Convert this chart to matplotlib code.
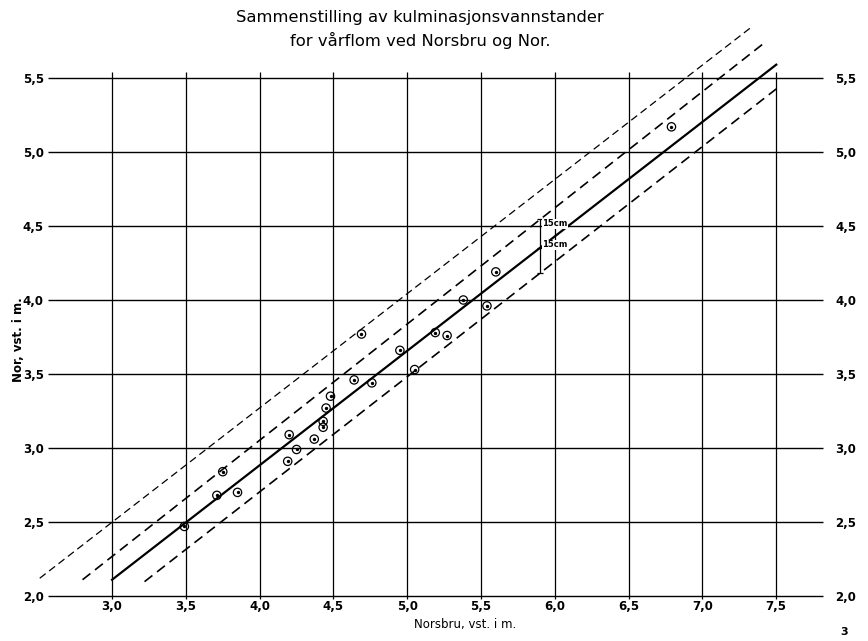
import numpy as np
import matplotlib.pyplot as plt
from matplotlib.ticker import FuncFormatter

## Data
norsbru = [3.49, 3.71, 3.75, 3.85, 4.19, 4.20, 4.25, 4.37, 4.43, 4.43, 4.45, 4.48,
           4.64, 4.69, 4.76, 4.95, 5.05, 5.19, 5.27, 5.38, 5.54, 5.60, 6.79]
nor = [2.47, 2.68, 2.84, 2.70, 2.91, 3.09, 2.99, 3.06, 3.14, 3.18, 3.27, 3.35,
       3.46, 3.77, 3.44, 3.66, 3.53, 3.78, 3.76, 4.00, 3.96, 4.19, 5.17]
# line end points (x0, x1), (y0, y1)
mid_x, mid_y = [3.00, 7.50], [2.11, 5.59]
upper_x, upper_y = [2.80, 7.41], [2.11, 5.73]
outer_x, outer_y = [2.51, 7.34], [2.12, 5.85]
lower_x, lower_y = [3.22, 7.50], [2.097, 5.426]
bracket_x = 5.9
x_ticks = [3.0, 3.5, 4.0, 4.5, 5.0, 5.5, 6.0, 6.5, 7.0, 7.5]
y_ticks = [2.0, 2.5, 3.0, 3.5, 4.0, 4.5, 5.0, 5.5]

plt.rcParams['font.family'] = ['DejaVu Sans']

fig = plt.figure(figsize=(8.68, 6.41), dpi=100)
ax = fig.add_axes([0.0553, 0.0702, 0.8929, 0.9005])
ax.set_xlim(2.566, 7.817)
ax.set_ylim(2.0, 5.9)
for s in ax.spines.values():
    s.set_visible(False)

# grid
ax.hlines(y_ticks, 2.566, 7.817, color='black', lw=1.0, clip_on=False)
ax.vlines(x_ticks, 1.98, 5.54, color='black', lw=0.9, clip_on=False)

# ticks, y labels on both sides (right ones via a twin axis)
comma = FuncFormatter(lambda v, p: f'{v:.1f}'.replace('.', ','))
ax.set_xticks(x_ticks)
ax.set_yticks(y_ticks)
ax.xaxis.set_major_formatter(comma)
ax.yaxis.set_major_formatter(comma)
ax.tick_params(axis='both', length=0, labelsize=8.5)
ax.tick_params(axis='x', pad=3)
ax.tick_params(axis='y', pad=3)
ax2 = ax.twinx()
ax2.set_ylim(ax.get_ylim())
ax2.set_yticks(y_ticks)
ax2.yaxis.set_major_formatter(comma)
ax2.tick_params(axis='y', length=0, labelsize=8.5, pad=9)
for s in ax2.spines.values():
    s.set_visible(False)
for lab in ax.get_xticklabels() + ax.get_yticklabels() + ax2.get_yticklabels():
    lab.set_fontweight('bold')

# regression and band lines
ax.plot(mid_x, mid_y, color='black', lw=1.6, clip_on=False)
ax.plot(upper_x, upper_y, color='black', lw=1.2, dashes=(6, 3.5), clip_on=False)
ax.plot(outer_x, outer_y, color='black', lw=0.9, dashes=(6, 3.5), clip_on=False)
ax.plot(lower_x, lower_y, color='black', lw=1.2, dashes=(6, 3.5), clip_on=False)

# 15 cm bracket
by_top = np.interp(bracket_x, upper_x, upper_y)
by_mid = np.interp(bracket_x, mid_x, mid_y)
by_bot = np.interp(bracket_x, lower_x, lower_y)
ax.vlines(bracket_x, by_bot, by_top, color='black', lw=0.9)
ax.hlines([by_top, by_mid, by_bot], bracket_x - 0.02, bracket_x + 0.02, color='black', lw=0.9)
box = dict(facecolor='white', edgecolor='none', pad=0.5)
ax.text(bracket_x + 0.015, by_top - 0.03, '15cm', fontsize=6, fontweight='bold',
        ha='left', va='center', bbox=box)
ax.text(bracket_x + 0.015, by_mid + 0.02, '15cm', fontsize=6, fontweight='bold',
        ha='left', va='center', bbox=box)

# observations
ax.scatter(norsbru, nor, s=36, facecolors='none', edgecolors='black', linewidths=0.9, zorder=3)
ax.scatter(norsbru, nor, s=2, color='black', zorder=3)

# texts
fig.text(0.484, 0.972, 'Sammenstilling av kulminasjonsvannstander', ha='center', va='center',
         fontsize=11.8)
fig.text(0.484, 0.937, 'for vårflom ved Norsbru og Nor.', ha='center', va='center', fontsize=11.8)
fig.text(0.536, 0.025, 'Norsbru, vst. i m.', ha='center', va='center', fontsize=8.5)
fig.text(0.021, 0.47, 'Nor, vst. i m.', ha='center', va='center', rotation=90,
         fontsize=8.5, fontweight='bold')
fig.text(0.973, 0.014, '3', ha='center', va='center', fontsize=8, fontweight='bold')

fig.savefig('out.png', dpi=100, facecolor='white')
